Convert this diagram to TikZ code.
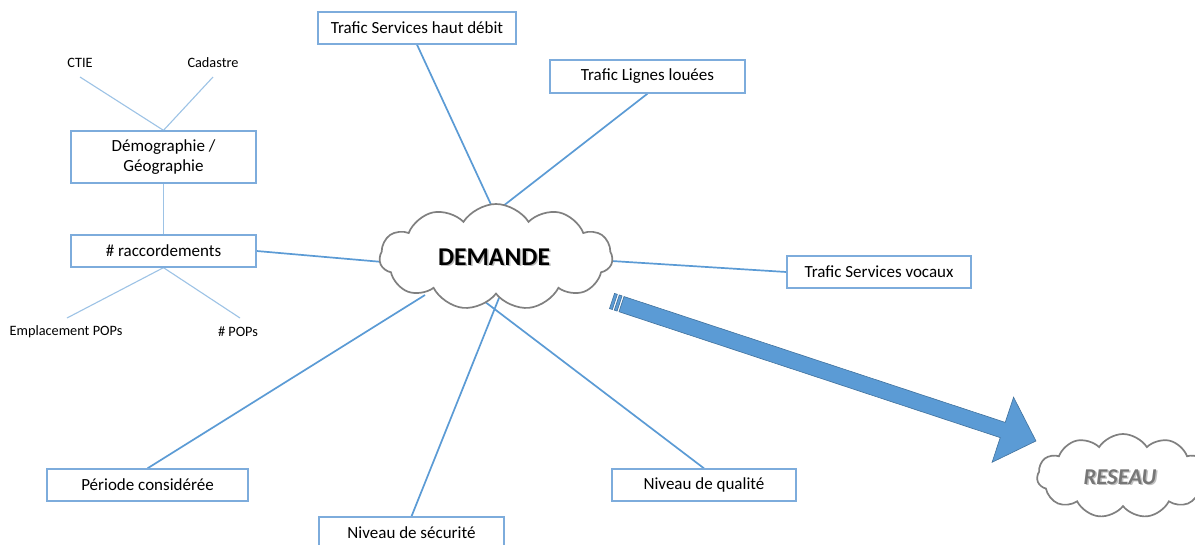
\documentclass[tikz,border=0pt]{standalone}
\usepackage{fontspec}
\setmainfont{Carlito}
\usetikzlibrary{shapes.symbols}
\definecolor{lnc}{RGB}{91,155,213}
\definecolor{lnl}{RGB}{157,195,230}
\definecolor{bxc}{RGB}{125,172,220}
\definecolor{cld}{RGB}{128,128,128}
\definecolor{arrf}{RGB}{91,155,213}
\definecolor{arrd}{RGB}{65,113,156}
\definecolor{resc}{RGB}{118,118,118}
\pgfdeclarelayer{bg}
\pgfsetlayers{bg,main}
\begin{document}
\begin{tikzpicture}[x=1pt,y=-1pt,
  bx/.style={draw=bxc, line width=1.3pt, fill=white, inner sep=0pt, font=\fontsize{17}{20.5}\selectfont, align=center},
  lab/.style={inner sep=0pt, font=\fontsize{14.3}{17}\selectfont},
  con/.style={draw=lnc, line width=1.7pt},
  conl/.style={draw=lnl, line width=1.1pt},
  cloudbox/.style={cloud, cloud puffs=11, cloud puff arc=115, draw=cld, line width=1.7pt, fill=white, inner sep=0pt}]
\clip (0,0) rectangle (1195,544);

% boxes
\node[bx, minimum width=198, minimum height=32] (hd) at (417,28) {Trafic Services haut débit};
\node[bx, minimum width=195, minimum height=33] (ll) at (647.5,76.5) {Trafic Lignes louées};
\node[bx, minimum width=185, minimum height=52] (demo) at (163.5,157) {Démographie /\\Géographie};
\node[bx, minimum width=185, minimum height=32] (rac) at (163.5,251) {\# raccordements};
\node[bx, minimum width=184, minimum height=32] (voc) at (879,272) {Trafic Services vocaux};
\node[bx, minimum width=201, minimum height=32] (per) at (147.5,485) {Période considérée};
\node[bx, minimum width=184, minimum height=32] (qual) at (704,485) {Niveau de qualité};
\node[bx, minimum width=185, minimum height=34] (sec) at (411.5,534) {\raisebox{2pt}{Niveau de sécurité}};

% small labels
\node[lab] (ctie) at (80,63) {CTIE};
\node[lab] (cad) at (213,63) {Cadastre};
\node[lab] (emp) at (66,332) {Emplacement POPs};
\node[lab] (pops) at (238,332) {\# POPs};
\coordinate (ctiel) at (80,77);
\coordinate (cadl) at (213,77);
\coordinate (empl) at (67,318);
\coordinate (popsl) at (240,318);

% clouds
\node[cloudbox, minimum width=233, minimum height=106] (dem) at (496,257) {};
\node[font=\bfseries\fontsize{25.6}{30}\selectfont, text=black!45, opacity=0.6] at (495.5,258.5) {DEMANDE};
\node[font=\bfseries\fontsize{25.6}{30}\selectfont] (demt) at (494,257) {DEMANDE};
\node[cloudbox, minimum width=172, minimum height=84] (res) at (1123,476) {};
\node[font=\bfseries\itshape\fontsize{22.6}{27}\selectfont, text=black!25] at (1121.5,478.5) {RESEAU};
\node[font=\bfseries\itshape\fontsize{22.6}{27}\selectfont, text=resc] (rest) at (1120,477) {RESEAU};

\coordinate (dtopa) at (500,224);
\coordinate (dtopb) at (480,224);
\coordinate (dbota) at (499,298);
\coordinate (dbotb) at (480,298);
\coordinate (dleft) at (392,262.8);
\coordinate (dright) at (602,260.4);
\coordinate (dll) at (425,295);

\begin{pgfonlayer}{bg}
\fill[white] (0,0) rectangle (1195,544);
\draw[conl] (ctiel) -- (demo.north);
\draw[conl] (cadl) -- (demo.north);
\draw[conl] (demo.south) -- (rac.north);
\draw[conl] (rac.south) -- (empl);
\draw[conl] (rac.south) -- (popsl);
\draw[con] (hd.south) -- (dtopa);
\draw[con] (ll.south) -- (dtopb);
\draw[con] (rac.east) -- (dleft);
\draw[con] (voc.west) -- (dright);
\draw[con] (per.north) -- (dll);
\draw[con] (sec.north) -- (dbota);
\draw[con] (qual.north) -- (dbotb);
\end{pgfonlayer}

% striped arrow
\begin{scope}[shift={(612,301)}, rotate=-18.27]
\path[fill=arrf, draw=arrd, line width=0.6pt] (0,-8) rectangle (3,8);
\path[fill=arrf, draw=arrd, line width=0.6pt] (5,-8) rectangle (8,8);
\path[fill=arrf, draw=arrd, line width=0.6pt]
  (10,-8) -- (411.5,-8) -- (411.5,-34.5) -- (446.5,0) -- (411.5,34) -- (411.5,8) -- (10,8) -- cycle;
\end{scope}
\end{tikzpicture}
\end{document}
